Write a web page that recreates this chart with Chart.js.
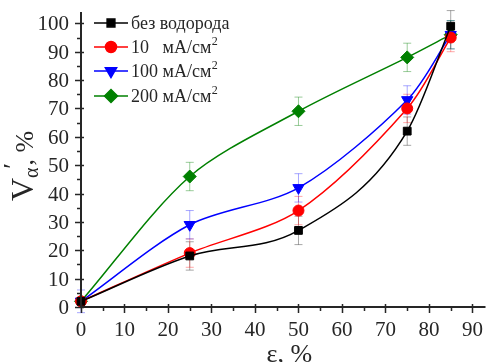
<!DOCTYPE html>
<html>
<head>
<meta charset="utf-8">
<script src="https://cdn.jsdelivr.net/npm/chart.js@4"></script>
<style>
  html, body { margin: 0; padding: 0; background: #fff; }
  #chart { display: block; }
</style>
</head>
<body>
<canvas id="chart" width="493" height="362"></canvas>
<script>
const xValues = [0, 25, 50, 75, 85];
const noHydrogen = [2, 18, 27, 62, 99];
const current10 = [2, 19, 34, 70, 95];
const current100 = [2, 29, 42, 73, 96];
const current200 = [2, 46, 69, 88, 96];
const errNoHydrogen = [0, 5, 5, 5, 5.5];
const err10 = [0, 5, 5, 5, 5];
const err100 = [4, 5, 5, 5, 5];
const err200 = [0, 5, 5, 5, 5];
const xTicks = [0, 10, 20, 30, 40, 50, 60, 70, 80, 90];
const yTicks = [0, 10, 20, 30, 40, 50, 60, 70, 80, 90, 100];
const legendLabels = [["без водорода", ""], ["10   мА/см", "2"], ["100 мА/см", "2"], ["200 мА/см", "2"]];

const SERIF = "Times New Roman, Liberation Serif, serif";
const INK = "#262626";

const series = [
  { data: noHydrogen, err: errNoHydrogen, color: "#000000", errColor: "rgba(0,0,0,0.35)", style: "rect", rot: 0, r: 5.5, mode: "monotone" },
  { data: current10, err: err10, color: "#ff0000", errColor: "rgba(255,0,0,0.35)", style: "circle", rot: 0, r: 5.5, mode: "default" },
  { data: current100, err: err100, color: "#0000ff", errColor: "rgba(0,0,255,0.35)", style: "triangle", rot: 180, r: 6.5, mode: "default" },
  { data: current200, err: err200, color: "#008000", errColor: "rgba(0,128,0,0.4)", style: "rectRot", rot: 0, r: 6.5, mode: "default" }
];

const errorBars = {
  id: "errorBars",
  beforeDatasetsDraw(chart) {
    const { ctx, scales: { x, y } } = chart;
    ctx.save();
    ctx.lineWidth = 1;
    series.forEach((s) => {
      ctx.strokeStyle = s.errColor;
      s.data.forEach((v, i) => {
        const e = s.err[i];
        if (!e) return;
        const px = x.getPixelForValue(xValues[i]);
        const top = y.getPixelForValue(v + e);
        const bot = y.getPixelForValue(v - e);
        ctx.beginPath();
        ctx.moveTo(px, top); ctx.lineTo(px, bot);
        ctx.moveTo(px - 4, top); ctx.lineTo(px + 4, top);
        ctx.moveTo(px - 4, bot); ctx.lineTo(px + 4, bot);
        ctx.stroke();
      });
    });
    ctx.restore();
  }
};

const frame = {
  id: "frame",
  afterDraw(chart) {
    const { ctx, chartArea: a, scales: { x, y } } = chart;
    ctx.save();
    ctx.strokeStyle = INK;
    ctx.lineWidth = 2;
    ctx.beginPath();
    ctx.moveTo(a.left, a.top); ctx.lineTo(a.left, a.bottom + 1);
    ctx.moveTo(a.left - 1, a.bottom); ctx.lineTo(a.right, a.bottom);
    ctx.stroke();
    ctx.lineWidth = 1.5;
    ctx.beginPath();
    for (let v = 0; v <= 90; v += 5) {
      const px = Math.round(x.getPixelForValue(v)) + 0.5;
      const major = v % 10 === 0;
      ctx.moveTo(px, a.bottom + (major ? 6 : 4));
      ctx.lineTo(px, a.bottom - (major ? 3 : 0));
    }
    for (let v = 0; v <= 100; v += 5) {
      const py = Math.round(y.getPixelForValue(v)) + 0.5;
      const major = v % 10 === 0;
      ctx.moveTo(a.left - (major ? 6 : 4), py);
      ctx.lineTo(a.left + (major ? 3 : 0), py);
    }
    ctx.stroke();

    // tick labels
    ctx.fillStyle = INK;
    ctx.font = `21px ${SERIF}`;
    ctx.textBaseline = "alphabetic";
    ctx.textAlign = "center";
    xTicks.forEach((v) => ctx.fillText(String(v), x.getPixelForValue(v), 336));
    ctx.textAlign = "right";
    yTicks.forEach((v) => ctx.fillText(String(v), a.left - 12, y.getPixelForValue(v) + 7));

    // axis titles
    ctx.font = `26px ${SERIF}`;
    ctx.textAlign = "center";
    ctx.fillText("ε, %", (a.left + a.right) / 2 + 6, 362);

    ctx.save();
    ctx.translate(33, 201);
    ctx.rotate(-Math.PI / 2);
    ctx.textAlign = "left";
    let cx = 0;
    ctx.font = `32px ${SERIF}`;
    ctx.fillText("V", cx, 0);
    cx += ctx.measureText("V").width;
    ctx.font = `20px ${SERIF}`;
    ctx.fillText("α", cx, 5);
    const aw = ctx.measureText("α").width;
    ctx.font = `26px ${SERIF}`;
    ctx.fillText("′", cx + aw / 2 + 4, -12);
    cx += aw + 2;
    ctx.fillText(", %", cx, 0);
    ctx.restore();

    // legend
    const rows = [23, 47, 71, 96];
    rows.forEach((ry, i) => {
      const s = series[i];
      ctx.strokeStyle = s.color;
      ctx.lineWidth = 1.5;
      ctx.beginPath();
      ctx.moveTo(94, ry); ctx.lineTo(128, ry);
      ctx.stroke();
      ctx.fillStyle = s.color;
      Chart.helpers.drawPoint(ctx, { pointStyle: s.style, radius: s.r, rotation: s.rot, borderWidth: 1 }, 111, ry);
      ctx.fillStyle = INK;
      ctx.textAlign = "left";
      ctx.font = `18px ${SERIF}`;
      const [main, sup] = legendLabels[i];
      ctx.fillText(main, 131, ry + 6);
      if (sup) {
        const w = ctx.measureText(main).width;
        ctx.font = `12px ${SERIF}`;
        ctx.fillText(sup, 131 + w + 0.5, ry - 2);
      }
    });
    ctx.restore();
  }
};

new Chart(document.getElementById("chart"), {
  type: "line",
  data: {
    datasets: series.map((s) => ({
      data: xValues.map((xv, i) => ({ x: xv, y: s.data[i] })),
      borderColor: s.color,
      backgroundColor: s.color,
      pointBackgroundColor: s.color,
      pointBorderColor: s.color,
      pointStyle: s.style,
      pointRotation: s.rot,
      pointRadius: s.r,
      pointBorderWidth: 1,
      borderWidth: 1.5,
      tension: 0.3,
      cubicInterpolationMode: s.mode,
      fill: false,
      clip: false
    }))
  },
  options: {
    responsive: false,
    animation: false,
    devicePixelRatio: 1,
    layout: { padding: { top: 12, right: 2, left: 0, bottom: 0 } },
    plugins: { legend: { display: false }, tooltip: { enabled: false } },
    scales: {
      x: {
        type: "linear",
        min: 0,
        max: 93,
        afterBuildTicks: (scale) => { scale.ticks = xTicks.map((v) => ({ value: v })); },
        afterFit: (scale) => { scale.height = 55; },
        grid: { display: false, drawTicks: false },
        border: { display: false },
        ticks: { display: false }
      },
      y: {
        type: "linear",
        min: 0,
        max: 104,
        afterBuildTicks: (scale) => { scale.ticks = yTicks.map((v) => ({ value: v })); },
        afterFit: (scale) => { scale.width = 81; },
        grid: { display: false, drawTicks: false },
        border: { display: false },
        ticks: { display: false }
      }
    }
  },
  plugins: [errorBars, frame]
});
</script>
</body>
</html>
